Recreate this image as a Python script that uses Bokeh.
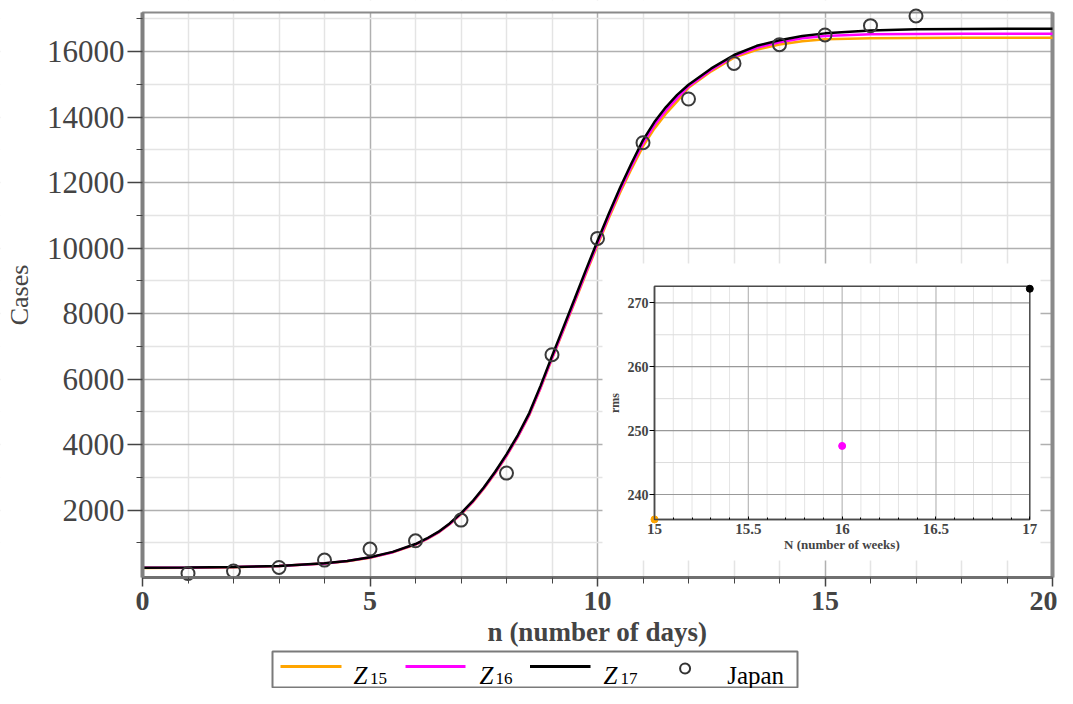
from bokeh.plotting import figure
from bokeh.models import Range1d, LinearAxis, FixedTicker, PrintfTickFormatter, Grid
from bokeh.embed import file_html
from bokeh.resources import INLINE
from bokeh.core.properties import value

# ---------------- data ----------------
DAYS = list(range(1, 18))
JAPAN = [61, 134, 244, 470, 807, 1060, 1692, 3128, 6743, 10297,
         13220, 14555, 15643, 16215, 16511, 16795, 17091]

N_FIT = [0, 1, 2, 3, 4, 4.5, 5, 5.5, 6, 6.25, 6.5, 6.75, 7, 7.25, 7.5, 7.75,
         8, 8.25, 8.5, 8.75, 9, 9.25, 9.5, 9.75, 10, 10.25, 10.5, 10.75, 11,
         11.25, 11.5, 11.75, 12, 12.5, 13, 13.5, 14, 14.5, 15, 16, 17, 18, 19, 20]
Z15 = [232, 238, 254, 287, 363, 436, 544, 706, 942, 1110, 1307, 1562, 1869,
       2224, 2648, 3122, 3646, 4232, 4895, 5725, 6620, 7480, 8350, 9230, 10090,
       10920, 11710, 12430, 13110, 13650, 14100, 14480, 14900, 15400, 15820,
       16060, 16220, 16320, 16380, 16412, 16420, 16423, 16424, 16424]
Z16 = [234, 240, 256, 289, 366, 440, 549, 712, 950, 1118, 1316, 1573, 1881,
       2237, 2663, 3138, 3663, 4250, 4913, 5745, 6640, 7510, 8390, 9280, 10140,
       10980, 11780, 12510, 13200, 13750, 14200, 14580, 14940, 15440, 15860,
       16120, 16290, 16410, 16480, 16530, 16543, 16547, 16548, 16548]
Z17 = [236, 242, 258, 292, 370, 445, 555, 720, 960, 1130, 1330, 1590, 1900,
       2260, 2690, 3170, 3700, 4290, 4960, 5800, 6700, 7580, 8460, 9350, 10220,
       11060, 11860, 12600, 13300, 13850, 14300, 14680, 14990, 15490, 15900,
       16180, 16350, 16480, 16560, 16650, 16685, 16696, 16699, 16700]
SERIES = [Z15, Z16, Z17]
SERIES_NUM = ["15", "16", "17"]
DATA_NAME = "Japan"

WEEKS = [15, 16, 17]
RMS = [236.1, 247.6, 272.2]

X_TICKS = [0, 5, 10, 15, 20]
X_MINOR = [v for v in range(1, 20) if v % 5]
Y_TICKS = [2000, 4000, 6000, 8000, 10000, 12000, 14000, 16000]
Y_MINOR = [1000, 3000, 5000, 7000, 9000, 11000, 13000, 15000, 17000]
IN_X_TICKS = [15, 15.5, 16, 16.5, 17]
IN_X_MINOR = [15 + k / 10 for k in range(1, 20) if k % 5]
IN_Y_TICKS = [240, 250, 260, 270]
IN_Y_MINOR = [245, 255, 265]

# ---------------- styles ----------------
COLORS = ["#FFA500", "#FF00FF", "#000000"]
SERIF = "Liberation Serif"

# ---------------- layout (canvas pixels) ----------------
W, H = 1057, 688
PL, PR, PT, PB = 142, 1052, 12, 577          # plot box
PY_2000, PY_16000 = 509.5, 51.2               # gridline positions
ppu = (PY_2000 - PY_16000) / 14000.0
py0 = PY_2000 + 2000 * ppu

def mx(px):
    return (px - PL) / (PR - PL) * 20.0

def my(py):
    return (py0 - py) / ppu

YB, YT = my(PB), my(PT)

# inset frame and calibration
IL, IR, IT, IB = 654, 1029.3, 285.7, 519
PY_270, PY_240 = 302.3, 494
ixp = (IR - IL) / 2.0
iyp = (PY_240 - PY_270) / 30.0
IX0, IX1 = 15 - IL / ixp, 17 + (W - IR) / ixp
IY0, IY1 = 240 - (H - PY_240) / iyp, 270 + PY_270 / iyp
IYB = 240 - (IB - PY_240) / iyp
IYT = 270 + (PY_270 - IT) / iyp
PANEL = (602, 1040, 263, 560)

p = figure(width=W, height=H, x_range=Range1d(mx(0), mx(W)), y_range=Range1d(my(H), my(0)),
           output_backend="svg", toolbar_location=None,
           x_axis_location=None, y_axis_location=None,
           min_border_left=0, min_border_right=0, min_border_top=0, min_border_bottom=0,
           background_fill_color="white", border_fill_color="white")
p.outline_line_color = None
for g in p.grid:
    g.visible = False

# main grid (interior lines only)
gx = Grid(dimension=0, ticker=FixedTicker(ticks=X_TICKS[1:-1], minor_ticks=X_MINOR))
gy = Grid(dimension=1, ticker=FixedTicker(ticks=Y_TICKS, minor_ticks=Y_MINOR))
for g in (gx, gy):
    g.grid_line_color = "#b0b0b0"
    g.grid_line_width = 1.5
    g.minor_grid_line_color = "#e4e4e4"
    g.minor_grid_line_width = 1.5
    p.add_layout(g, "center")

# white margins around the plot box, then the box border
XA, XB, YA, YZ = mx(-20), mx(W + 20), my(-20), my(H + 20)
p.quad(left=[XA, 20, 0, 0], right=[0, XB, 20, 20],
       top=[YA, YA, YA, YB], bottom=[YZ, YZ, YT, YZ],
       fill_color="white", line_color=None)
p.quad(left=0, right=20, bottom=YB, top=YT, fill_color=None,
       line_color="#8a8a8a", line_width=2)
p.segment(x0=[20], x1=[20], y0=[YB], y1=[YT], line_color="#8a8a8a", line_width=4)

# y axis
ya = LinearAxis(fixed_location=0, bounds=(YB, YT),
                ticker=FixedTicker(ticks=Y_TICKS, minor_ticks=Y_MINOR))
ya.axis_label = "Cases"
ya.axis_label_text_font = SERIF
ya.axis_label_text_font_style = "normal"
ya.axis_label_text_font_size = "26px"
ya.axis_label_standoff = 10
ya.major_label_text_font = SERIF
ya.major_label_text_font_size = "31px"
ya.major_label_standoff = 3
ya.major_tick_out = 15
ya.major_tick_in = 0
ya.minor_tick_out = 6
ya.minor_tick_in = 0
ya.axis_line_color = "#808080"
ya.axis_line_width = 4
ya.major_tick_line_color = "#444444"
ya.minor_tick_line_color = "#444444"
ya.major_tick_line_width = 1.5
p.add_layout(ya, "left")

# x axis
xa = LinearAxis(fixed_location=YB, bounds=(0, 20),
                ticker=FixedTicker(ticks=X_TICKS, minor_ticks=X_MINOR))
xa.axis_label = "n (number of days)"
xa.axis_label_text_font = SERIF
xa.axis_label_text_font_style = "bold"
xa.axis_label_text_font_size = "27px"
xa.axis_label_standoff = 4
xa.major_label_text_font = SERIF
xa.major_label_text_font_style = "bold"
xa.major_label_text_font_size = "28px"
xa.major_label_standoff = 5
xa.major_tick_out = 9
xa.major_tick_in = 0
xa.minor_tick_out = 6
xa.minor_tick_in = 0
xa.axis_line_color = "#707070"
xa.axis_line_width = 3
xa.major_tick_line_color = "#444444"
xa.minor_tick_line_color = "#444444"
xa.major_tick_line_width = 1.5
p.add_layout(xa, "below")

# ---------------- inset ----------------
p.extra_x_ranges = {"ix": Range1d(IX0, IX1)}
p.extra_y_ranges = {"iy": Range1d(IY0, IY1)}
IR_KW = dict(x_range_name="ix", y_range_name="iy")

p.quad(left=mx(PANEL[0]), right=mx(PANEL[1]), top=my(PANEL[2]), bottom=my(PANEL[3]),
       fill_color="white", line_color=None)
p.segment(x0=IN_X_MINOR, x1=IN_X_MINOR, y0=[IYB] * len(IN_X_MINOR), y1=[IYT] * len(IN_X_MINOR),
          line_color="#e4e4e4", line_width=1, **IR_KW)
p.segment(x0=[15] * len(IN_Y_MINOR), x1=[17] * len(IN_Y_MINOR), y0=IN_Y_MINOR, y1=IN_Y_MINOR,
          line_color="#dcdcdc", line_width=1, **IR_KW)
inner_x = IN_X_TICKS[1:-1]
p.segment(x0=inner_x, x1=inner_x, y0=[IYB] * len(inner_x), y1=[IYT] * len(inner_x),
          line_color="#b8b8b8", line_width=1.2, **IR_KW)
p.segment(x0=[15] * len(IN_Y_TICKS), x1=[17] * len(IN_Y_TICKS), y0=IN_Y_TICKS, y1=IN_Y_TICKS,
          line_color="#999999", line_width=1.2, **IR_KW)
p.quad(left=15, right=17, bottom=IYB, top=IYT, fill_color=None,
       line_color="#4a4a4a", line_width=1.5, **IR_KW)
p.scatter(x=WEEKS, y=RMS, marker="circle", size=7, fill_color=COLORS,
          line_color=COLORS, **IR_KW)

iya = LinearAxis(fixed_location=15, bounds=(IYB, IYT),
                 ticker=FixedTicker(ticks=IN_Y_TICKS, minor_ticks=[]),
                 axis_label="rms", **IR_KW)
iya.axis_label_text_font = SERIF
iya.axis_label_text_font_style = "bold"
iya.axis_label_text_font_size = "12px"
iya.axis_label_standoff = 3
iya.major_label_text_font = SERIF
iya.major_label_text_font_style = "bold"
iya.major_label_text_font_size = "14px"
iya.major_label_standoff = 1
iya.major_tick_out = 5
iya.major_tick_in = 0
iya.axis_line_color = "#4a4a4a"
iya.axis_line_width = 1.5
p.add_layout(iya, "left")

ixa = LinearAxis(fixed_location=IYB, bounds=(15, 17),
                 ticker=FixedTicker(ticks=IN_X_TICKS, minor_ticks=IN_X_MINOR),
                 formatter=PrintfTickFormatter(format="%g"),
                 axis_label="N (number of weeks)", **IR_KW)
ixa.axis_label_text_font = SERIF
ixa.axis_label_text_font_style = "bold"
ixa.axis_label_text_font_size = "13px"
ixa.axis_label_standoff = 0
ixa.major_label_text_font = SERIF
ixa.major_label_text_font_style = "bold"
ixa.major_label_text_font_size = "15px"
ixa.major_label_standoff = 4
ixa.major_tick_out = 0
ixa.major_tick_in = 3
ixa.minor_tick_out = 0
ixa.minor_tick_in = 2
ixa.axis_line_color = "#4a4a4a"
ixa.axis_line_width = 1.5
p.add_layout(ixa, "below")

# ---------------- main curves and data ----------------
for ys, c in zip(SERIES, COLORS):
    p.line(N_FIT, ys, line_color=c, line_width=2.5)
p.scatter(DAYS, JAPAN, marker="circle", size=13, fill_color=None,
          line_color="#3a3a3a", line_width=2)

# ---------------- legend (below the axis title) ----------------
p.quad(left=mx(272), right=mx(797), bottom=my(687), top=my(651),
       fill_color="white", line_color="#7a7a7a", line_width=2)
SAMPLE_X = [(280, 341), (405, 465), (529.5, 590)]
Z_X = [353, 479, 603]
SUB_X = [369.5, 495, 620]
for (a, b), c in zip(SAMPLE_X, COLORS):
    p.line([mx(a), mx(b)], [my(666), my(666)], line_color=c, line_width=3)
p.text(x=[mx(v) for v in Z_X], y=[my(675)] * 3, text=["Z"] * 3,
       text_font=value(SERIF), text_font_style="italic", text_font_size="25px",
       text_baseline="alphabetic", text_align="left", text_color="black")
p.text(x=[mx(v) for v in SUB_X], y=[my(678)] * 3, text=SERIES_NUM,
       text_font=value(SERIF), text_font_size="17px",
       text_baseline="alphabetic", text_align="left", text_color="black")
p.scatter([mx(684.6)], [my(668)], marker="circle", size=10, fill_color=None,
          line_color="#333333", line_width=2)
p.text(x=[mx(726.7)], y=[my(675)], text=[DATA_NAME],
       text_font=value(SERIF), text_font_size="25px",
       text_baseline="alphabetic", text_align="left", text_color="black")

open("out.html", "w").write(file_html(p, INLINE))
